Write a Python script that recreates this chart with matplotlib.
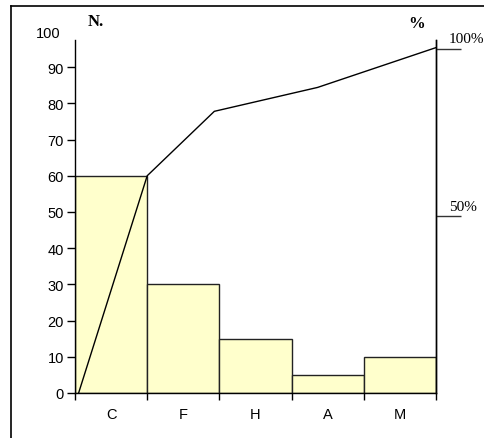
import matplotlib
matplotlib.use("Agg")
import matplotlib.pyplot as plt
from matplotlib.lines import Line2D
import matplotlib.transforms as mtransforms

categories = ["C", "F", "H", "A", "M"]
counts = [60, 30, 15, 5, 10]
cum_x = [-0.45, 0.5, 1.43, 2.86, 4.5]
cum_y = [0, 60, 77.8, 84.4, 95.4]
pct_ticks = [50, 100]
pct_labels = ["50%", "100%"]
y_ticks = [0, 10, 20, 30, 40, 50, 60, 70, 80, 90]

fig = plt.figure(figsize=(4.84, 4.39), dpi=100)
fig.patch.set_facecolor("white")
# outer frame (left and top lines)
fig.add_artist(Line2D([11/484, 11/484], [0, 1 - 7/439], color="black", lw=1.2, transform=fig.transFigure))
fig.add_artist(Line2D([11/484, 1], [1 - 7/439, 1 - 7/439], color="black", lw=1.2, transform=fig.transFigure))

ax = fig.add_axes([75/484, 1 - 394/439, (436 - 75)/484, (394 - 41)/439])
xs = list(range(len(categories)))
ax.bar(xs, counts, width=1.0, color="#FFFFCC", edgecolor="#222222", linewidth=1.0)
ax.plot(cum_x, cum_y, color="black", lw=1.0)
ax.set_xlim(-0.5, len(categories) - 0.5)
ax.set_ylim(0, 97.5)

ax.spines["top"].set_visible(False)
for s in ["left", "bottom", "right"]:
    ax.spines[s].set_linewidth(1.0)

ax.set_yticks(y_ticks)
ax.set_yticklabels([str(v) for v in y_ticks])
ax.tick_params(axis="y", direction="out", length=6, width=1, labelsize=10.5, pad=2,
               labelfontfamily="Liberation Sans")
ax.text(-0.04, 99.3, "100", transform=mtransforms.blended_transform_factory(ax.transAxes, ax.transData),
        ha="right", va="center", fontsize=10.5, family="Liberation Sans", clip_on=False)

ax.set_xticks(xs)
ax.set_xticklabels(categories, fontsize=10.5, family="Liberation Sans")
ax.set_xticks([x - 0.5 for x in xs] + [len(xs) - 0.5], minor=True)
ax.tick_params(axis="x", which="major", length=0, pad=10)
ax.tick_params(axis="x", which="minor", direction="out", length=5, width=1)

# right percent axis
ax2 = ax.twinx()
ax2.set_ylim(-2.9, 102.6)
ax2.spines["top"].set_visible(False)
ax2.spines["left"].set_visible(False)
ax2.spines["bottom"].set_visible(False)
ax2.spines["right"].set_linewidth(1.0)
ax2.set_yticks(pct_ticks)
ax2.set_yticklabels([])
ax2.tick_params(axis="y", direction="out", length=18, width=1, color="#333333")
bt = mtransforms.blended_transform_factory(ax2.transAxes, ax2.transData)
for v, lab in zip(pct_ticks, pct_labels):
    ax2.text(1.035, v + 1.0, lab, transform=bt, ha="left", va="bottom", fontsize=11,
             family="Liberation Serif", clip_on=False)

fig.text(88/484, 1 - 22/439, "N.", fontsize=12, fontweight="bold", family="Liberation Serif",
         ha="left", va="center")
fig.text(417/484, 1 - 24/439, "%", fontsize=12, fontweight="bold", family="Liberation Serif",
         ha="center", va="center")

fig.savefig("out.png", dpi=100, facecolor="white")
